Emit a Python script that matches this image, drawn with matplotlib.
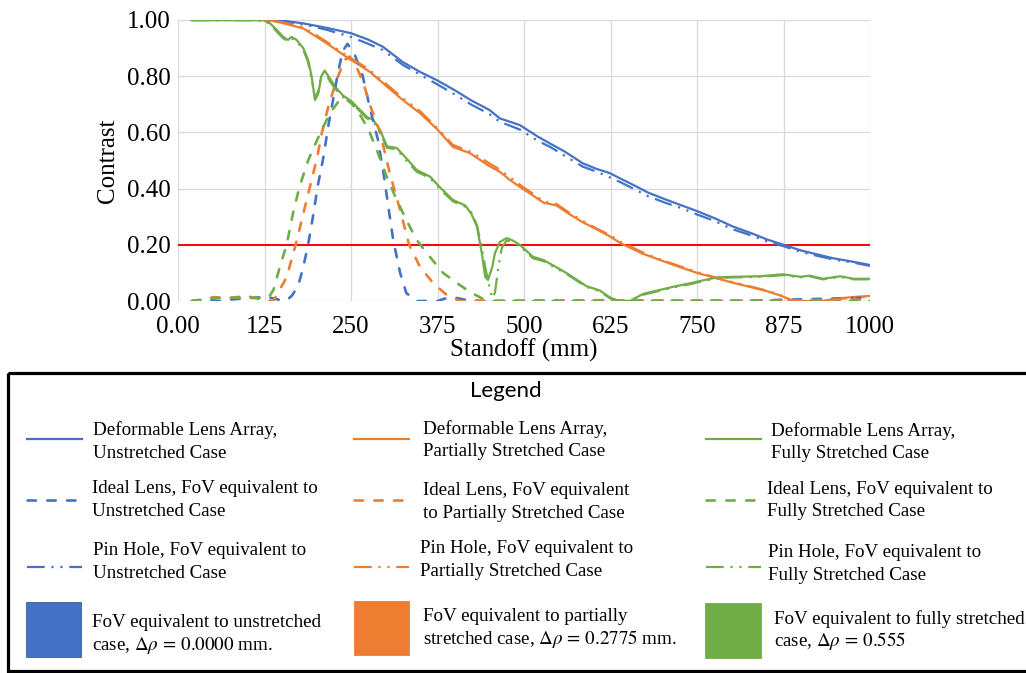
import matplotlib.pyplot as plt
from matplotlib.lines import Line2D
from matplotlib.patches import Rectangle

plt.rcParams['font.family'] = ['Liberation Serif', 'DejaVu Serif']
plt.rcParams['mathtext.fontset'] = 'stix'

BLUE = '#4472C4'
ORANGE = '#ED7D31'
GREEN = '#70AD47'

# ---- data (standoff in mm, contrast) ----
# Deformable lens array
dla_un_x = [20, 60, 100, 143, 181, 215, 250, 275, 296, 325, 350, 374, 400, 423, 450, 465,
            494, 520, 538, 560, 585, 605, 624, 640, 658, 680, 706, 728, 750, 775, 802, 830,
            850, 875, 900, 925, 947, 975, 1000]
dla_un_y = [1.0, 1.0, 1.0, 1.0, 0.988, 0.972, 0.953, 0.93, 0.905, 0.85, 0.815, 0.786, 0.75,
            0.715, 0.68, 0.65, 0.626, 0.585, 0.56, 0.53, 0.49, 0.47, 0.455, 0.435, 0.413,
            0.385, 0.36, 0.34, 0.32, 0.295, 0.265, 0.24, 0.22, 0.20, 0.18, 0.165, 0.152,
            0.14, 0.128]

dla_pa_x = [20, 60, 100, 129, 150, 181, 215, 246, 262, 277, 302, 325, 350, 375, 397, 422,
            450, 465, 480, 499, 515, 528, 547, 565, 585, 605, 624, 640, 653, 670, 692, 720,
            750, 775, 802, 830, 851, 870, 880, 890, 930, 957, 980, 1000]
dla_pa_y = [1.0, 1.0, 1.0, 1.0, 0.99, 0.97, 0.917, 0.864, 0.84, 0.816, 0.763, 0.715, 0.668,
            0.61, 0.549, 0.526, 0.48, 0.46, 0.43, 0.398, 0.372, 0.35, 0.34, 0.31, 0.28,
            0.255, 0.23, 0.205, 0.19, 0.17, 0.15, 0.125, 0.10, 0.083, 0.065, 0.048, 0.035,
            0.02, 0.01, 0.0, 0.0, 0.01, 0.015, 0.018]

dla_fu_x = [20, 60, 100, 123, 133, 143, 152, 159, 164, 171, 181, 188, 193, 198, 203, 207,
            212, 220, 229, 239, 251, 263, 273, 282, 292, 302, 316, 330, 345, 364, 378, 397,
            415, 424, 432, 439, 444, 448, 454, 458, 465, 475, 484, 494, 513, 528, 547, 561,
            576, 590, 610, 624, 634, 653, 672, 692, 720, 740, 754, 779, 802, 841, 874, 899,
            913, 932, 957, 976, 1000]
dla_fu_y = [1.0, 1.0, 1.0, 1.0, 0.988, 0.964, 0.94, 0.929, 0.94, 0.93, 0.90, 0.858, 0.80,
            0.715, 0.74, 0.80, 0.82, 0.79, 0.757, 0.73, 0.71, 0.68, 0.655, 0.645, 0.609,
            0.55, 0.545, 0.508, 0.466, 0.443, 0.406, 0.36, 0.34, 0.31, 0.265, 0.17, 0.086,
            0.075, 0.12, 0.17, 0.21, 0.224, 0.215, 0.2, 0.157, 0.146, 0.12, 0.10, 0.076,
            0.053, 0.037, 0.013, 0.003, 0.0, 0.025, 0.037, 0.053, 0.063, 0.071, 0.084,
            0.086, 0.088, 0.095, 0.086, 0.09, 0.079, 0.088, 0.079, 0.079]

# Ideal lens
il_un_x = [20, 40, 60, 80, 100, 128, 145, 157, 165, 174, 181, 188, 195, 202, 210, 217,
           224, 231, 238, 245, 255, 267, 277, 289, 297, 304, 311, 321, 330, 345, 375, 390,
           400, 420, 450, 600, 800, 1000]
il_un_y = [0.0, 0.005, 0.0, 0.006, 0.01, 0.015, 0.005, 0.002, 0.02, 0.057, 0.12, 0.2, 0.30,
           0.41, 0.51, 0.62, 0.715, 0.81, 0.89, 0.915, 0.88, 0.80, 0.69, 0.573, 0.455,
           0.335, 0.217, 0.10, 0.028, 0.0, 0.0, 0.012, 0.012, 0.002, 0.0, 0.002, 0.0, 0.012]

il_pa_x = [20, 36, 51, 72, 99, 123, 138, 147, 157, 170, 181, 191, 201, 208, 217, 229, 241,
           248, 258, 268, 277, 292, 306, 321, 334, 350, 369, 389, 407, 450, 600, 800, 1000]
il_pa_y = [0.0, 0.0, 0.014, 0.01, 0.018, 0.004, 0.0, 0.04, 0.085, 0.2, 0.31, 0.41, 0.51,
           0.6, 0.69, 0.786, 0.858, 0.87, 0.833, 0.775, 0.70, 0.6, 0.455, 0.324, 0.2, 0.12,
           0.063, 0.02, 0.0, 0.0, 0.003, 0.0, 0.005]

il_fu_x = [20, 49, 72, 99, 128, 133, 138, 147, 157, 166, 176, 188, 201, 210, 220, 232, 242,
           252, 265, 277, 289, 302, 316, 330, 345, 364, 383, 403, 422, 441, 455, 600, 800,
           1000]
il_fu_y = [0.0, 0.01, 0.012, 0.012, 0.01, 0.02, 0.04, 0.12, 0.2, 0.31, 0.41, 0.50, 0.573,
           0.62, 0.67, 0.71, 0.72, 0.70, 0.655, 0.6, 0.526, 0.44, 0.36, 0.288, 0.217, 0.157,
           0.10, 0.064, 0.032, 0.007, 0.0, 0.0, 0.002, 0.0]

# Pin hole
ph_un_x = dla_un_x
ph_un_y = [1.0, 1.0, 1.0, 0.997, 0.985, 0.965, 0.94, 0.915, 0.893, 0.84, 0.805, 0.772,
           0.735, 0.70, 0.665, 0.638, 0.61, 0.57, 0.548, 0.515, 0.478, 0.46, 0.44, 0.422,
           0.40, 0.372, 0.348, 0.33, 0.308, 0.285, 0.255, 0.232, 0.213, 0.195, 0.175, 0.16,
           0.148, 0.137, 0.125]

ph_pa_x = dla_pa_x
ph_pa_y = [1.0, 1.0, 1.0, 1.0, 0.992, 0.975, 0.922, 0.87, 0.846, 0.822, 0.77, 0.722, 0.675,
           0.615, 0.556, 0.532, 0.49, 0.468, 0.44, 0.405, 0.378, 0.355, 0.345, 0.315, 0.285,
           0.258, 0.235, 0.21, 0.195, 0.175, 0.152, 0.128, 0.103, 0.085, 0.067, 0.05, 0.037,
           0.022, 0.005, 0.0, 0.0, 0.008, 0.012, 0.015]

ph_fu_x = [20, 60, 100, 123, 133, 143, 152, 159, 164, 171, 181, 188, 193, 198, 203, 207,
           212, 220, 229, 239, 251, 263, 273, 282, 292, 302, 316, 330, 345, 364, 378, 397,
           415, 424, 432, 439, 444, 450, 454, 458, 463, 468, 475, 484, 494, 513, 528, 547,
           561, 576, 590, 610, 624, 634, 653, 672, 692, 720, 740, 754, 779, 802, 841, 874,
           899, 913, 932, 957, 976, 1000]
ph_fu_y = [1.0, 1.0, 1.0, 1.0, 0.985, 0.958, 0.935, 0.925, 0.935, 0.925, 0.895, 0.85, 0.79,
           0.72, 0.75, 0.805, 0.815, 0.78, 0.75, 0.725, 0.705, 0.675, 0.65, 0.64, 0.6,
           0.545, 0.54, 0.5, 0.46, 0.438, 0.40, 0.355, 0.336, 0.315, 0.27, 0.19, 0.12, 0.05,
           0.01, 0.03, 0.12, 0.19, 0.215, 0.21, 0.195, 0.152, 0.142, 0.116, 0.097, 0.073,
           0.05, 0.034, 0.01, 0.0, 0.0, 0.022, 0.034, 0.05, 0.06, 0.068, 0.081, 0.084, 0.086,
           0.092, 0.084, 0.088, 0.077, 0.086, 0.077, 0.077]

threshold = 0.2

x_ticks = [0, 125, 250, 375, 500, 625, 750, 875, 1000]
x_labels = ['0.00', '125', '250', '375', '500', '625', '750', '875', '1000']
y_ticks = [0.0, 0.2, 0.4, 0.6, 0.8, 1.0]

# ---- figure ----
fig = plt.figure(figsize=(10.26, 6.73), dpi=100)
ax = fig.add_axes([178 / 1026, 1 - 301 / 673, 692 / 1026, 281 / 673])

dash = dict(ls=(0, (3.2, 4.3)), lw=1.9, dash_capstyle='round')
dashdot = dict(ls=(0, (8, 3, 1, 3, 1, 3)), lw=1.6)
solid = dict(ls='-', lw=1.6)

ax.axhline(threshold, color='#FF0000', lw=1.4, zorder=2)

ax.plot(dla_un_x, dla_un_y, color=BLUE, **solid, zorder=3)
ax.plot(dla_pa_x, dla_pa_y, color=ORANGE, **solid, zorder=3)
ax.plot(dla_fu_x, dla_fu_y, color=GREEN, **solid, zorder=3)
ax.plot(il_un_x, il_un_y, color=BLUE, **dash, zorder=3)
ax.plot(il_pa_x, il_pa_y, color=ORANGE, **dash, zorder=3)
ax.plot(il_fu_x, il_fu_y, color=GREEN, **dash, zorder=3)
ax.plot(ph_un_x, ph_un_y, color=BLUE, **dashdot, zorder=3)
ax.plot(ph_pa_x, ph_pa_y, color=ORANGE, **dashdot, zorder=3)
ax.plot(ph_fu_x, ph_fu_y, color=GREEN, **dashdot, zorder=3)

ax.set_xlim(0, 1000)
ax.set_ylim(0, 1.0)
ax.set_xticks(x_ticks)
ax.set_xticklabels(x_labels)
ax.set_yticks(y_ticks)
ax.set_yticklabels([f'{v:.2f}' for v in y_ticks])
ax.tick_params(axis='both', length=0, labelsize=18)
ax.tick_params(axis='x', pad=11)
ax.tick_params(axis='y', pad=5)
ax.grid(True, color='#D9D9D9', lw=0.9)
ax.set_axisbelow(True)
for s in ax.spines.values():
    s.set_visible(False)

ax.set_xlabel('Standoff (mm)', fontsize=18)
ax.set_ylabel('Contrast', fontsize=18)
ax.xaxis.set_label_coords(0.5, -0.135)
ax.yaxis.set_label_coords(-0.085, 0.5)

# ---- legend box drawn in pixel space ----
lg = fig.add_axes([0, 0, 1, 1])
lg.set_xlim(0, 1026)
lg.set_ylim(673, 0)
lg.axis('off')

lg.add_patch(Rectangle((8, 373), 1030, 298, fill=False, ec='black', lw=2.3))
lg.text(506, 391, 'Legend', family='Lato', fontsize=16, ha='center', va='center')

colors = [BLUE, ORANGE, GREEN]
styles = [solid, dash, dashdot]
labels = [
    [['Deformable Lens Array,', 'Unstretched Case'],
     ['Deformable Lens Array,', 'Partially Stretched Case'],
     ['Deformable Lens Array,', 'Fully Stretched Case']],
    [['Ideal Lens, FoV equivalent to', 'Unstretched Case'],
     ['Ideal Lens, FoV equivalent', 'to Partially Stretched Case'],
     ['Ideal Lens, FoV equivalent to', 'Fully Stretched Case']],
    [['Pin Hole, FoV equivalent to', 'Unstretched Case'],
     ['Pin Hole, FoV equivalent to', 'Partially Stretched Case'],
     ['Pin Hole, FoV equivalent to', 'Fully Stretched Case']],
    [['FoV equivalent to unstretched', r'case, $\Delta\rho\,=\,0.0000$ mm.'],
     ['FoV equivalent to partially', r'stretched case, $\Delta\rho\,=\,0.2775$ mm.'],
     ['FoV equivalent to fully stretched', r'case, $\Delta\rho\,=\,0.555$']],
]

handle_x = [27, 354, 706]
handle_y = [439, 500, 567]
text_x = [[93, 423, 771], [92, 423, 767], [93, 420, 768], [92, 423, 774]]
text_y = [[429, 428, 430], [487, 489, 488], [549, 547, 551], [621, 615, 618]]
patch_box = [(26, 602, 55, 55), (354, 601, 55, 54), (705, 603, 56, 55)]

for r in range(4):
    for c in range(3):
        if r < 3:
            lg.add_line(Line2D([handle_x[c], handle_x[c] + 55], [handle_y[r], handle_y[r]],
                               color=colors[c], **styles[r]))
        else:
            px, py, w, h = patch_box[c]
            lg.add_patch(Rectangle((px, py), w, h, fc=colors[c], ec='#3A5F9F' if c == 0 else colors[c], lw=0.6))
        for i, line in enumerate(labels[r][c]):
            lg.text(text_x[r][c], text_y[r][c] + 22.5 * i + 6, line, fontsize=13.7,
                    ha='left', va='baseline')

fig.savefig('out.png', dpi=100)
